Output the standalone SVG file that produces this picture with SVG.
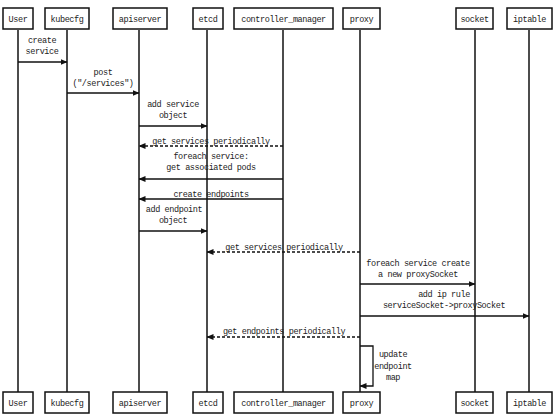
<svg xmlns="http://www.w3.org/2000/svg" width="554" height="417" viewBox="0 0 554 417">
<defs>
<style>
.box{fill:#fff;stroke:#111;stroke-width:1.5}
.life{stroke:#111;stroke-width:1.5}
.msg{stroke:#111;stroke-width:1.3;fill:none}
.dash{stroke-dasharray:3 2}
text{font-family:"Liberation Mono","DejaVu Sans Mono",monospace;font-size:8.5px;letter-spacing:-0.4px;fill:#222;text-anchor:middle}
</style>
<marker id="ah" markerWidth="7" markerHeight="6" refX="6.5" refY="3" orient="auto" markerUnits="userSpaceOnUse">
<path d="M0,0 L7,3 L0,6 Z" fill="#111"/>
</marker>
</defs>
<rect width="554" height="417" fill="#fff"/>
<g id="lifelines">
<line class="life" x1="18" y1="30" x2="18" y2="392"/>
<line class="life" x1="67" y1="30" x2="67" y2="392"/>
<line class="life" x1="139" y1="30" x2="139" y2="392"/>
<line class="life" x1="207" y1="30" x2="207" y2="392"/>
<line class="life" x1="283" y1="30" x2="283" y2="392"/>
<line class="life" x1="360" y1="30" x2="360" y2="392"/>
<line class="life" x1="475" y1="30" x2="475" y2="392"/>
<line class="life" x1="529" y1="30" x2="529" y2="392"/>
</g>
<g id="user"><rect class="box" x="3" y="8" width="30" height="21"/><text x="18" y="22">User</text><rect class="box" x="3" y="392" width="30" height="21"/><text x="18" y="406">User</text></g>
<g id="kubecfg"><rect class="box" x="45" y="8" width="44" height="21"/><text x="67" y="22">kubecfg</text><rect class="box" x="45" y="392" width="44" height="21"/><text x="67" y="406">kubecfg</text></g>
<g id="apiserver"><rect class="box" x="113" y="8" width="54" height="21"/><text x="140" y="22">apiserver</text><rect class="box" x="113" y="392" width="54" height="21"/><text x="140" y="406">apiserver</text></g>
<g id="etcd"><rect class="box" x="193" y="8" width="30" height="21"/><text x="208" y="22">etcd</text><rect class="box" x="193" y="392" width="30" height="21"/><text x="208" y="406">etcd</text></g>
<g id="controller_manager"><rect class="box" x="234" y="8" width="99" height="21"/><text x="283.5" y="22">controller_manager</text><rect class="box" x="234" y="392" width="99" height="21"/><text x="283.5" y="406">controller_manager</text></g>
<g id="proxy"><rect class="box" x="343" y="8" width="37" height="21"/><text x="361.5" y="22">proxy</text><rect class="box" x="343" y="392" width="37" height="21"/><text x="361.5" y="406">proxy</text></g>
<g id="socket"><rect class="box" x="456" y="8" width="37" height="21"/><text x="474.5" y="22">socket</text><rect class="box" x="456" y="392" width="37" height="21"/><text x="474.5" y="406">socket</text></g>
<g id="iptable"><rect class="box" x="507" y="8" width="45" height="21"/><text x="529.5" y="22">iptable</text><rect class="box" x="507" y="392" width="45" height="21"/><text x="529.5" y="406">iptable</text></g>
<g id="connectors">
<line class="msg" x1="18" y1="62" x2="67" y2="62" marker-end="url(#ah)"/>
<line class="msg" x1="67" y1="93" x2="139" y2="93" marker-end="url(#ah)"/>
<line class="msg" x1="139" y1="126" x2="207" y2="126" marker-end="url(#ah)"/>
<line class="msg dash" x1="283" y1="146" x2="139" y2="146" marker-end="url(#ah)"/>
<line class="msg" x1="283" y1="179" x2="139" y2="179" marker-end="url(#ah)"/>
<line class="msg" x1="283" y1="199" x2="139" y2="199" marker-end="url(#ah)"/>
<line class="msg" x1="139" y1="231" x2="207" y2="231" marker-end="url(#ah)"/>
<line class="msg dash" x1="360" y1="252" x2="207" y2="252" marker-end="url(#ah)"/>
<line class="msg" x1="360" y1="284" x2="475" y2="284" marker-end="url(#ah)"/>
<line class="msg" x1="360" y1="316" x2="529" y2="316" marker-end="url(#ah)"/>
<line class="msg dash" x1="360" y1="337" x2="207" y2="337" marker-end="url(#ah)"/>
<path class="msg" d="M360,346 H373 V386 H360" marker-end="url(#ah)"/>
</g>
<g id="labels">
<text x="42" y="43">create</text><text x="42" y="54">service</text>
<text x="103" y="75">post</text><text x="103" y="86">("/services")</text>
<text x="173" y="107">add service</text><text x="173" y="118">object</text>
<text x="211" y="144">get services periodically</text>
<text x="211" y="159">foreach service:</text><text x="211" y="170">get associated pods</text>
<text x="211" y="197">create endpoints</text>
<text x="174" y="212">add endpoint</text><text x="173" y="223">object</text>
<text x="284" y="250">get services periodically</text>
<text x="418" y="266">foreach service create</text><text x="418" y="277">a new proxySocket</text>
<text x="444" y="297">add ip rule</text><text x="444" y="308">serviceSocket-&gt;proxySocket</text>
<text x="284" y="334">get endpoints periodically</text>
<text x="393" y="357">update</text><text x="393" y="369">endpoint</text><text x="393" y="380">map</text>
</g>
</svg>
